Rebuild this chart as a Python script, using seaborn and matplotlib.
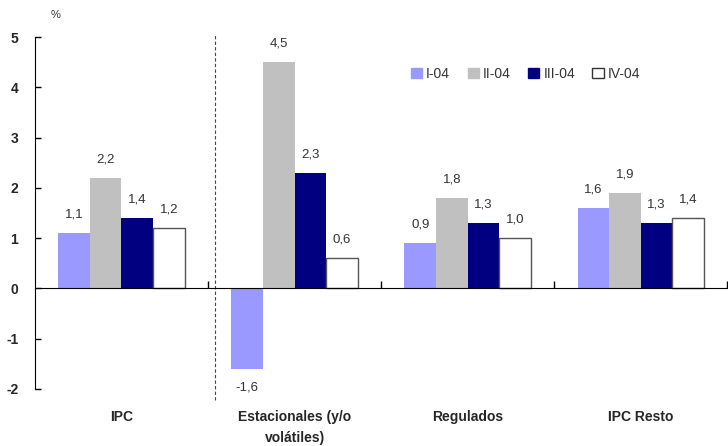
import matplotlib
matplotlib.use("Agg")
import matplotlib.pyplot as plt
import matplotlib.ticker as mticker
from matplotlib.patches import Patch
import seaborn as sns
import pandas as pd

categories = ["IPC", "Estacionales (y/o\nvolátiles)", "Regulados", "IPC Resto"]
periods = ["I-04", "II-04", "III-04", "IV-04"]
values_I = [1.1, -1.6, 0.9, 1.6]
values_II = [2.2, 4.5, 1.8, 1.9]
values_III = [1.4, 2.3, 1.3, 1.3]
values_IV = [1.2, 0.6, 1.0, 1.4]
y_ticks = [-2, -1, 0, 1, 2, 3, 4, 5]

colors = ["#9999FF", "#C0C0C0", "#000080", "#FFFFFF"]

series = [values_I, values_II, values_III, values_IV]
df = pd.DataFrame({
    "categoria": [c for s in series for c in categories],
    "periodo": [p for p, s in zip(periods, series) for _ in s],
    "valor": [v for s in series for v in s],
})

sns.set_style("white")
plt.rcParams["font.family"] = ["Liberation Sans", "DejaVu Sans"]

fig = plt.figure(figsize=(7.28, 4.46), dpi=100)
ax = fig.add_axes([0.048, 0.128, 0.951, 0.789])

sns.barplot(data=df, x="categoria", y="valor", hue="periodo",
            order=categories, hue_order=periods, palette=colors,
            saturation=1, width=0.73, legend=False, ax=ax, linewidth=0)

# white series gets a dark outline
for cont, per in zip(ax.containers, periods):
    for bar in cont:
        if per == "IV-04":
            bar.set_edgecolor("#555555")
            bar.set_linewidth(1.0)
        else:
            bar.set_linewidth(0)

for cont, s in zip(ax.containers, series):
    ax.bar_label(cont, labels=[f"{v:.1f}".replace(".", ",") for v in s],
                 padding=9, fontsize=9.5, color="#333333")

ax.set_xlim(-0.5, 3.5)
ax.set_ylim(-2, 5)
ax.set_yticks(y_ticks)
ax.set_yticklabels([str(t) for t in y_ticks], fontsize=10, fontweight="bold")
ax.tick_params(axis="y", direction="in", length=4, width=1, color="black",
               left=True, pad=12)

ax.spines["top"].set_visible(False)
ax.spines["right"].set_visible(False)
ax.spines["left"].set_color("black")
ax.spines["bottom"].set_color("black")
ax.spines["bottom"].set_position(("data", 0))

ax.set_xticks([])
ax.xaxis.set_minor_locator(mticker.FixedLocator([0.5, 1.5, 2.5, 3.5]))
ax.tick_params(axis="x", which="minor", direction="in", length=5, width=1,
               color="black", bottom=True)
ax.set_xlabel("")
ax.set_ylabel("")

# category names below the plot area
for i, c in enumerate(categories):
    ax.text(i, -2.42, c, ha="center", va="top", fontsize=10,
            fontweight="bold", linespacing=1.6)

# separator between the headline index and its components
ax.plot([0.54, 0.54], [-2.22, 5.05], ls=(0, (3, 2)), lw=0.8,
        color="#444444", clip_on=False)

ax.text(-0.38, 5.38, "%", fontsize=8, color="#333333", ha="center")

handles = [Patch(facecolor=c, edgecolor=("#333333" if c == "#FFFFFF" else c),
                 linewidth=1) for c in colors]
ax.legend(handles, periods, loc="center left", bbox_to_anchor=(0.525, 0.895),
          ncol=4, frameon=False, fontsize=10, handlelength=0.8,
          handleheight=0.8, handletextpad=0.3, columnspacing=1.25,
          labelcolor="#333333")

fig.savefig("out.png", dpi=100)
